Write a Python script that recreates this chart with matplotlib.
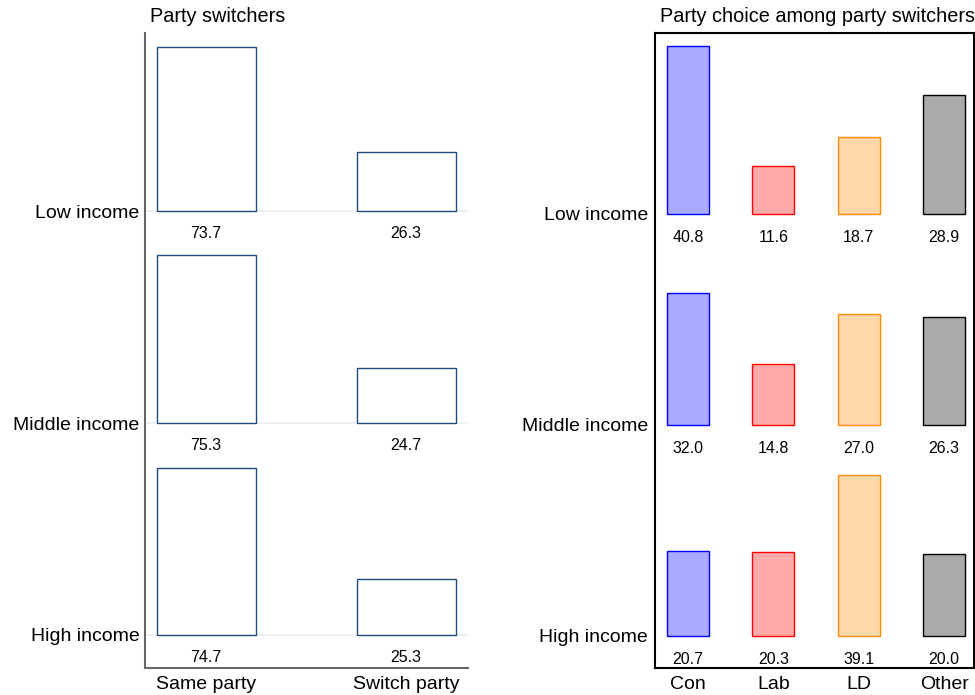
import matplotlib.pyplot as plt
from matplotlib.colors import to_rgba

plt.rcParams['font.family'] = ['Liberation Sans', 'DejaVu Sans']

# Data
income_groups = ['Low income', 'Middle income', 'High income']
switch_cats = ['Same party', 'Switch party']
switch_vals = [[73.7, 26.3], [75.3, 24.7], [74.7, 25.3]]
party_cats = ['Con', 'Lab', 'LD', 'Other']
party_vals = [[40.8, 11.6, 18.7, 28.9], [32.0, 14.8, 27.0, 26.3], [20.7, 20.3, 39.1, 20.0]]
party_colors = ['blue', 'red', 'darkorange', 'black']

# vertical offsets of each group (low on top)
left_offsets = [190, 95, 0]
right_offsets = [103, 51.5, 0]

fig = plt.figure(figsize=(9.75, 6.95), dpi=100)
W, H = 975, 695

# ---------------- Left panel ----------------
ax1 = fig.add_axes([145 / W, 27 / H, (468 - 145) / W, 635 / H])
for g, off in enumerate(left_offsets):
    ax1.axhline(off, color='#e9eff3', lw=1.2, zorder=0)
    for i, v in enumerate(switch_vals[g]):
        ax1.bar(i, v, width=0.495, bottom=off, facecolor='white',
                edgecolor='#1f4b7a', lw=1.0, zorder=2)
        ax1.annotate(f'{v:.1f}', (i, off), xytext=(0, -16), textcoords='offset points',
                     ha='center', va='center', fontsize=11.5)
ax1.set_xlim(-0.305, 1.31)
ax1.set_ylim(-14.8, 269.8)
ax1.set_yticks(left_offsets)
ax1.set_yticklabels(income_groups, fontsize=14)
ax1.set_xticks(range(len(switch_cats)))
ax1.set_xticklabels(switch_cats, fontsize=14)
ax1.tick_params(axis='both', length=0)
ax1.tick_params(axis='y', pad=4)
ax1.tick_params(axis='x', pad=6)
for s in ['top', 'right']:
    ax1.spines[s].set_visible(False)
for s in ['left', 'bottom']:
    ax1.spines[s].set_color('#666666')
    ax1.spines[s].set_linewidth(1.5)
ax1.text(5 / 323, 1.0 + 7 / 635, 'Party switchers', transform=ax1.transAxes,
         ha='left', va='bottom', fontsize=14.3)

# ---------------- Right panel ----------------
ax2 = fig.add_axes([655 / W, 27 / H, (974 - 655) / W, 635 / H])
for g, off in enumerate(right_offsets):
    for i, v in enumerate(party_vals[g]):
        c = party_colors[i]
        ax2.bar(i, v, width=0.49, bottom=off, facecolor=to_rgba(c, 1 / 3),
                edgecolor=c, lw=1.0, zorder=2)
        ax2.annotate(f'{v:.1f}', (i, off), xytext=(0, -17), textcoords='offset points',
                     ha='center', va='center', fontsize=11.5)
ax2.set_xlim(-0.385, 3.35)
ax2.set_ylim(-7.93, 147.06)
ax2.set_yticks(right_offsets)
ax2.set_yticklabels(income_groups, fontsize=14)
ax2.set_xticks(range(len(party_cats)))
ax2.set_xticklabels(party_cats, fontsize=14)
ax2.tick_params(axis='both', length=0)
ax2.tick_params(axis='y', pad=5)
ax2.tick_params(axis='x', pad=6)
for s in ax2.spines.values():
    s.set_color('black')
    s.set_linewidth(1.5)
ax2.text(5 / 319, 1.0 + 7 / 635, 'Party choice among party switchers', transform=ax2.transAxes,
         ha='left', va='bottom', fontsize=14.3)

fig.savefig('out.png', dpi=100)
